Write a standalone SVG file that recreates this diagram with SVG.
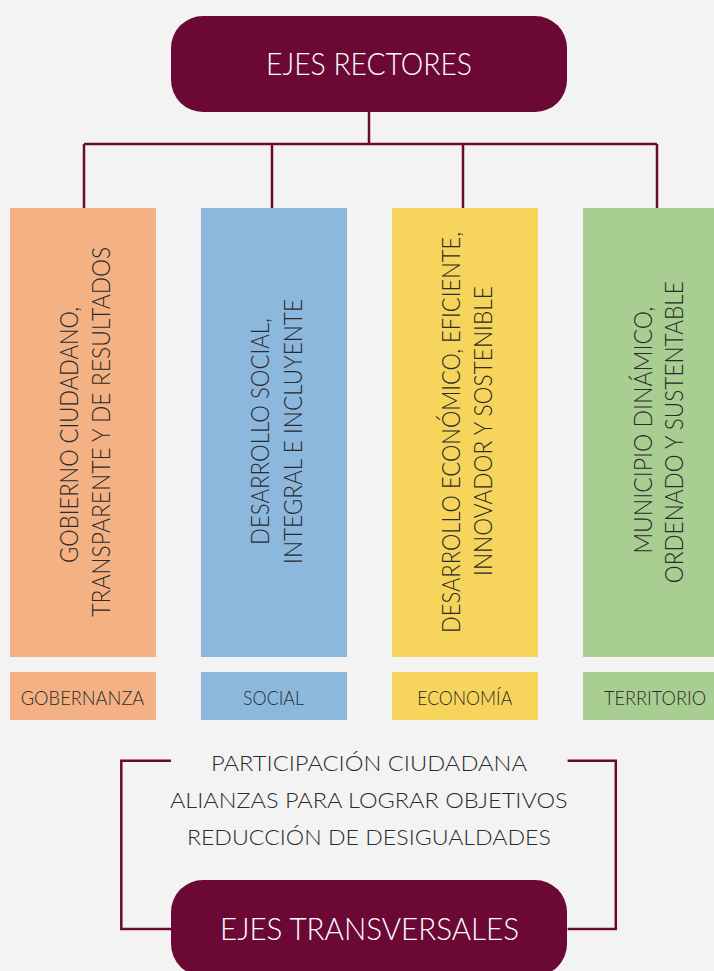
<svg xmlns="http://www.w3.org/2000/svg" width="714" height="971" viewBox="0 0 714 971">
<style>
.bg{fill:#f3f3f3}
.hub{fill:#6b0833}
.hubt{fill:#ffffff;font-family:Lato,"Open Sans","Liberation Sans",sans-serif;font-weight:300;text-anchor:middle}
.conn{fill:none;stroke:#6b0833;stroke-width:2.5}
.vt{fill:#2b2b2b;font-family:Lato,"Open Sans","Liberation Sans",sans-serif;font-weight:300;font-size:26px;text-anchor:middle}
.lt{fill:#2b2b2b;font-family:Lato,"Open Sans","Liberation Sans",sans-serif;font-weight:300;font-size:19.5px;text-anchor:middle}
.tt{fill:#2b2b2b;font-family:Lato,"Open Sans","Liberation Sans",sans-serif;font-weight:300;font-size:21px;text-anchor:middle}
.c1{fill:#f4b184}
.c2{fill:#8db8de}
.c3{fill:#f7d55c}
.c4{fill:#a9ce91}
</style>
<rect class="bg" x="0" y="0" width="714" height="971"/>
<g id="connectors">
<path class="conn" d="M369,112 V144 M84,144 H657 M84,144 V208 M272,144 V208 M463,144 V208 M657,144 V208"/>
<path class="conn" d="M171,760.7 H121.3 V929 H171"/>
<path class="conn" d="M567.6,760.7 H615.8 V929 H567.6"/>
</g>
<g id="ejes-rectores">
<rect class="hub" x="171" y="16" width="396" height="96" rx="32" ry="32"/>
<text class="hubt" x="369" y="75" font-size="32" textLength="206" lengthAdjust="spacingAndGlyphs">EJES RECTORES</text>
</g>
<g id="eje-gobierno">
<rect class="c1" x="10" y="208" width="146" height="449"/>
<text class="vt" transform="translate(78,434.9) rotate(-90)" textLength="256" lengthAdjust="spacingAndGlyphs">GOBIERNO CIUDADANO,</text>
<text class="vt" transform="translate(110,431.7) rotate(-90)" textLength="370" lengthAdjust="spacingAndGlyphs">TRANSPARENTE Y DE RESULTADOS</text>
</g>
<g id="eje-social">
<rect class="c2" x="201" y="208" width="146" height="449"/>
<text class="vt" transform="translate(269,431.5) rotate(-90)" textLength="227" lengthAdjust="spacingAndGlyphs">DESARROLLO SOCIAL,</text>
<text class="vt" transform="translate(301.7,431.5) rotate(-90)" textLength="265" lengthAdjust="spacingAndGlyphs">INTEGRAL E INCLUYENTE</text>
</g>
<g id="eje-economico">
<rect class="c3" x="392" y="208" width="146" height="449"/>
<text class="vt" transform="translate(460,432.5) rotate(-90)" textLength="401" lengthAdjust="spacingAndGlyphs">DESARROLLO ECONÓMICO, EFICIENTE,</text>
<text class="vt" transform="translate(492.3,431) rotate(-90)" textLength="290" lengthAdjust="spacingAndGlyphs">INNOVADOR Y SOSTENIBLE</text>
</g>
<g id="eje-municipio">
<rect class="c4" x="583" y="208" width="146" height="449"/>
<text class="vt" transform="translate(651.7,430.3) rotate(-90)" textLength="247" lengthAdjust="spacingAndGlyphs">MUNICIPIO DINÁMICO,</text>
<text class="vt" transform="translate(682.7,432.2) rotate(-90)" textLength="302" lengthAdjust="spacingAndGlyphs">ORDENADO Y SUSTENTABLE</text>
</g>
<g id="label-gobernanza">
<rect class="c1" x="10" y="672" width="146" height="48"/>
<text class="lt" x="82.5" y="705" textLength="123.6" lengthAdjust="spacingAndGlyphs">GOBERNANZA</text>
</g>
<g id="label-social">
<rect class="c2" x="201" y="672" width="146" height="48"/>
<text class="lt" x="273.5" y="705" textLength="61" lengthAdjust="spacingAndGlyphs">SOCIAL</text>
</g>
<g id="label-economia">
<rect class="c3" x="392" y="672" width="146" height="48"/>
<text class="lt" x="464.7" y="705" textLength="95" lengthAdjust="spacingAndGlyphs">ECONOMÍA</text>
</g>
<g id="label-territorio">
<rect class="c4" x="583" y="672" width="146" height="48"/>
<text class="lt" x="655" y="705" textLength="102" lengthAdjust="spacingAndGlyphs">TERRITORIO</text>
</g>
<g id="transversales-lista">
<text class="tt" x="369" y="770.7" textLength="316" lengthAdjust="spacingAndGlyphs">PARTICIPACIÓN CIUDADANA</text>
<text class="tt" x="368.8" y="808.3" textLength="397.7" lengthAdjust="spacingAndGlyphs">ALIANZAS PARA LOGRAR OBJETIVOS</text>
<text class="tt" x="368.9" y="845" textLength="364" lengthAdjust="spacingAndGlyphs">REDUCCIÓN DE DESIGUALDADES</text>
</g>
<g id="ejes-transversales">
<rect class="hub" x="171" y="880" width="396" height="96" rx="32" ry="32"/>
<text class="hubt" x="369.5" y="940" font-size="31.5" textLength="299" lengthAdjust="spacingAndGlyphs">EJES TRANSVERSALES</text>
</g>
</svg>
